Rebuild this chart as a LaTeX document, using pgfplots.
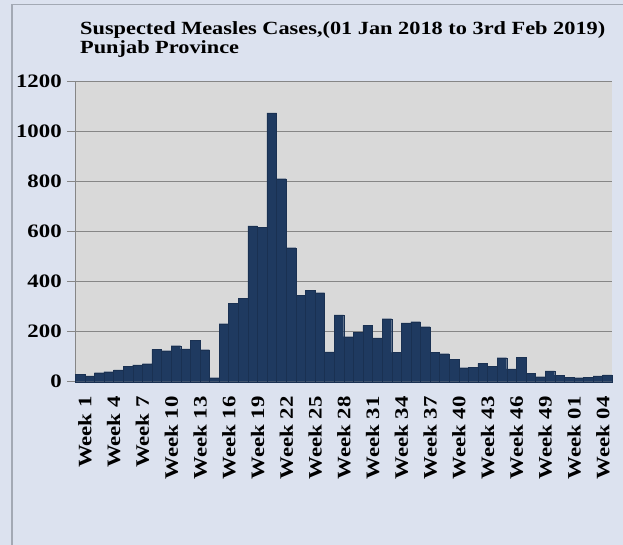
\documentclass[border=0pt]{standalone}
\usepackage{pgfplots}
\pgfplotsset{compat=1.18}
\usepackage{pgfplotstable}
\usepackage{fontspec}
\setmainfont[FakeStretch=1.2]{Liberation Serif}

\definecolor{chartbg}{HTML}{DCE2EF}
\definecolor{plotbg}{HTML}{D9D9D9}
\definecolor{gridgray}{HTML}{868686}
\definecolor{barblue}{HTML}{1F3A60}
\definecolor{framegray}{HTML}{A3A9B4}

% weekly suspected measles cases, Punjab (index 0..55)
\pgfplotstableread{
idx cases
0 30
1 23
2 36
3 40
4 47
5 62
6 67
7 72
8 129
9 124
10 144
11 131
12 165
13 128
14 16
15 232
16 313
17 334
18 623
19 618
20 1075
21 812
22 536
23 345
24 366
25 356
26 119
27 267
28 180
29 198
30 225
31 175
32 252
33 117
34 235
35 240
36 220
37 118
38 112
39 89
40 56
41 57
42 73
43 62
44 96
45 51
46 97
47 33
48 20
49 43
50 26
51 18
52 16
53 17
54 23
55 27
}\measles

\begin{document}
\begin{tikzpicture}
\useasboundingbox (0pt,0pt) rectangle (623pt,545pt);
% chart area
\fill[chartbg] (0pt,0pt) rectangle (623pt,545pt);
\draw[framegray, line width=1.5pt] (12pt,-5pt) -- (12pt,540.5pt) -- (630pt,540.5pt);
\begin{axis}[
  at={(80pt,163.3pt)}, anchor=origin,
  width=537pt, height=300pt, scale only axis,
  xmin=-0.5, xmax=55.5, ymin=0, ymax=1200,
  ytick={0,200,...,1200},
  xtick={0,3,...,54},
  xticklabels={Week 1,Week 4,Week 7,Week 10,Week 13,Week 16,Week 19,Week 22,Week 25,Week 28,Week 31,Week 34,Week 37,Week 40,Week 43,Week 46,Week 49,Week 01,Week 04},
  minor xtick={-0.5,0.5,...,55.5},
  axis x line*=bottom, axis y line*=left,
  axis line style={gridgray, line width=1pt},
  axis background/.style={fill=plotbg},
  ymajorgrids, grid style={gridgray, line width=1.3pt},
  tick align=outside,
  xtick style={draw=none},
  minor x tick style={gridgray, line width=0.8pt},
  minor tick length=6pt,
  ytick style={gridgray, line width=1pt},
  major tick length=8pt,
  tick label style={font=\fontsize{19}{20}\selectfont\bfseries},
  yticklabel style={xshift=-2pt},
  xticklabel style={rotate=90, anchor=east, yshift=-5pt, xshift=-3pt},
  /pgf/number format/assume math mode=true,
  /pgf/number format/1000 sep={},
  clip=false,
]
\addplot[ybar, bar width=1, bar shift=0pt, fill=barblue, draw=barblue!85!black, line width=0.3pt]
  table[x=idx, y=cases] {\measles};
\end{axis}
% title
\node[anchor=base west, align=left, font=\fontsize{18.6}{19}\selectfont\bfseries, inner sep=0pt]
  at (80pt,491pt) {Suspected Measles Cases,(01 Jan 2018 to 3rd Feb 2019)\\Punjab Province};
\end{tikzpicture}
\end{document}
